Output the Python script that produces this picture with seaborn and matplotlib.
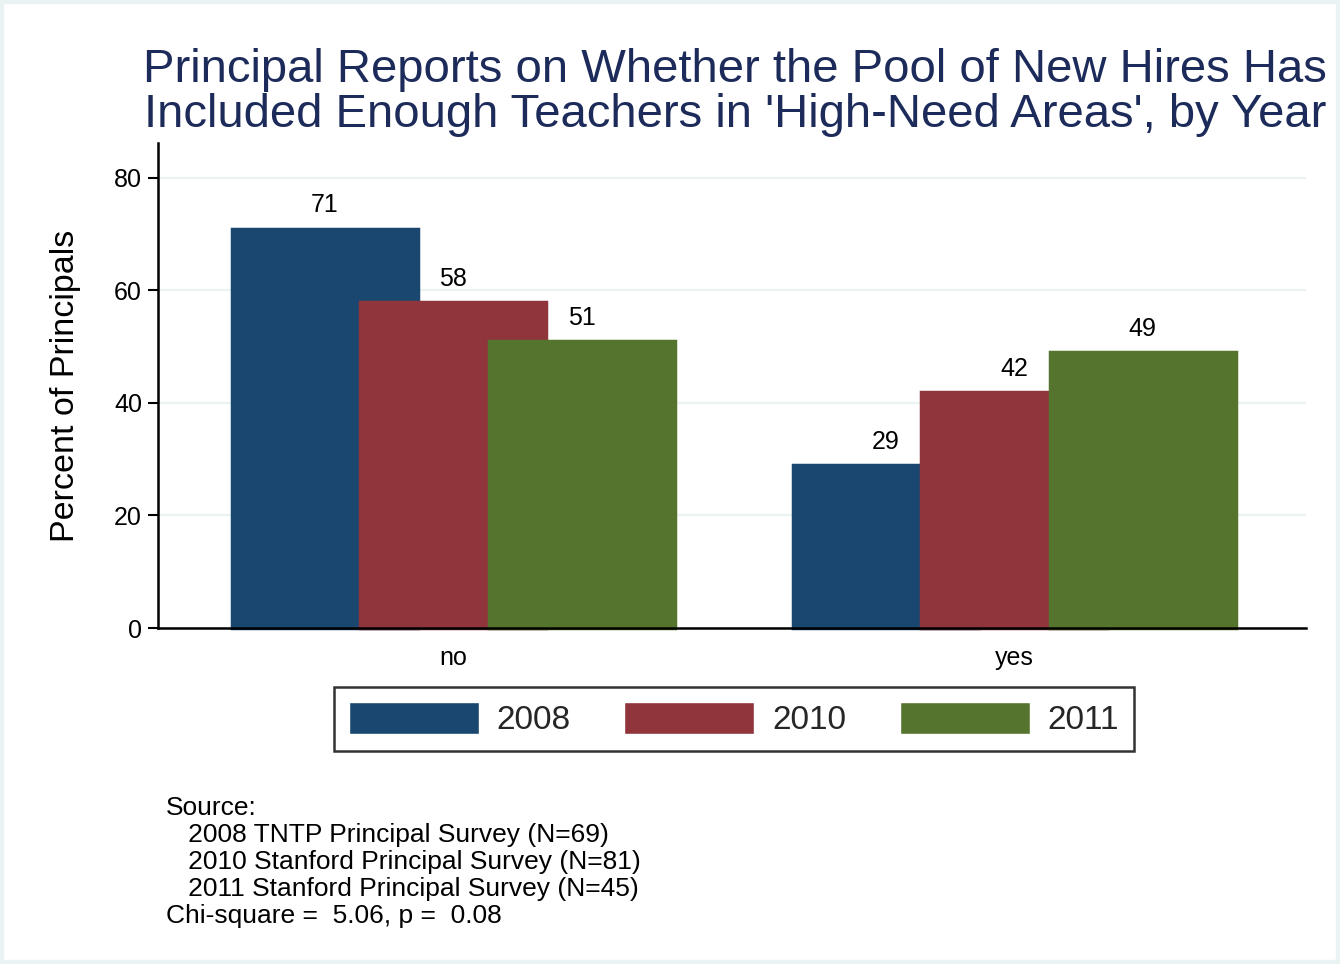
import matplotlib
matplotlib.use("Agg")
import matplotlib.pyplot as plt
import seaborn as sns
import pandas as pd
from matplotlib.patches import Rectangle

# ---- data ----
responses = ["no", "yes"]
years = ["2008", "2010", "2011"]
pct_2008 = [71, 29]
pct_2010 = [58, 42]
pct_2011 = [51, 49]
colors = ["#1a476f", "#90353b", "#55752f"]
title_lines = ["Principal Reports on Whether the Pool of New Hires Has",
               "Included Enough Teachers in 'High-Need Areas', by Year"]
source_lines = ["Source:",
                "   2008 TNTP Principal Survey (N=69)",
                "   2010 Stanford Principal Survey (N=81)",
                "   2011 Stanford Principal Survey (N=45)",
                "Chi-square =  5.06, p =  0.08"]

rows = []
for yr, vals in zip(years, [pct_2008, pct_2010, pct_2011]):
    for r, v in zip(responses, vals):
        rows.append({"response": r, "year": yr, "percent": v})
df = pd.DataFrame(rows)

sns.set_style("white")
plt.rcParams["font.family"] = ["Liberation Sans", "DejaVu Sans"]

W, H = 1340, 964
fig = plt.figure(figsize=(W / 100, H / 100), dpi=100)
fig.patch.set_facecolor("white")
# light outer frame
fig.patches.append(Rectangle((0, 0), 1, 1, transform=fig.transFigure, fill=False,
                             edgecolor="#eaf2f3", linewidth=6, zorder=-1))

ax = fig.add_axes([158 / W, 1 - 628 / H, (1306 - 158) / W, (628 - 143) / H])

sns.barplot(data=df, x="response", y="percent", hue="year", order=responses,
            hue_order=years, palette=colors, saturation=1, width=0.687,
            dodge=True, ax=ax, legend=True, errorbar=None)

bar_w = 0.3316
for cont in ax.containers:
    for bar in cont:
        cx = bar.get_x() + bar.get_width() / 2
        bar.set_x(cx - bar_w / 2)
        bar.set_width(bar_w)
        bar.set_edgecolor(bar.get_facecolor())
        bar.set_linewidth(2.5)
        bar.set_clip_on(False)
    ax.bar_label(cont, fmt="%d", padding=8, fontsize=18, color="black")

ax.set_xlim(-0.526, 1.52)
ax.set_ylim(0, 86.2)
ax.set_yticks([0, 20, 40, 60, 80])
ax.yaxis.grid(True, color="#eaf2f3", linewidth=1.6, zorder=0)
ax.set_axisbelow(True)

for s in ["top", "right"]:
    ax.spines[s].set_visible(False)
for s in ["left", "bottom"]:
    ax.spines[s].set_visible(True)
    ax.spines[s].set_color("black")
    ax.spines[s].set_linewidth(1.8)
    ax.spines[s].set_zorder(5)

ax.tick_params(axis="y", which="major", direction="out", length=7.5, width=1.5,
               labelsize=18, pad=4, left=True, colors="black")
ax.tick_params(axis="x", length=0, labelsize=18, pad=13, colors="black")
ax.set_xlabel("")
ax.set_ylabel("Percent of Principals", fontsize=24.5, labelpad=24, color="black")

# legend
handles, labels = ax.get_legend_handles_labels()
ax.get_legend().remove()
leg = fig.legend(handles, labels, loc="center", bbox_to_anchor=(734 / W, 1 - 719 / H),
                 ncol=3, fontsize=24, frameon=True, fancybox=False,
                 handlelength=3.9, handleheight=1.08, handletextpad=0.54,
                 columnspacing=1.6, borderpad=0.44, borderaxespad=0)
leg.get_frame().set_edgecolor("black")
leg.get_frame().set_linewidth(1.8)

# title
title_color = "#1c2b5a"
for i, line in enumerate(title_lines):
    fig.text(735 / W, 1 - (82 + 45 * i) / H, line, ha="center", va="baseline",
             fontsize=34, color=title_color)

# source note
for i, line in enumerate(source_lines):
    fig.text(166 / W, 1 - (815 + 27 * i) / H, line, ha="left", va="baseline",
             fontsize=19, color="black")

fig.savefig("out.png", dpi=100, facecolor=fig.get_facecolor())
